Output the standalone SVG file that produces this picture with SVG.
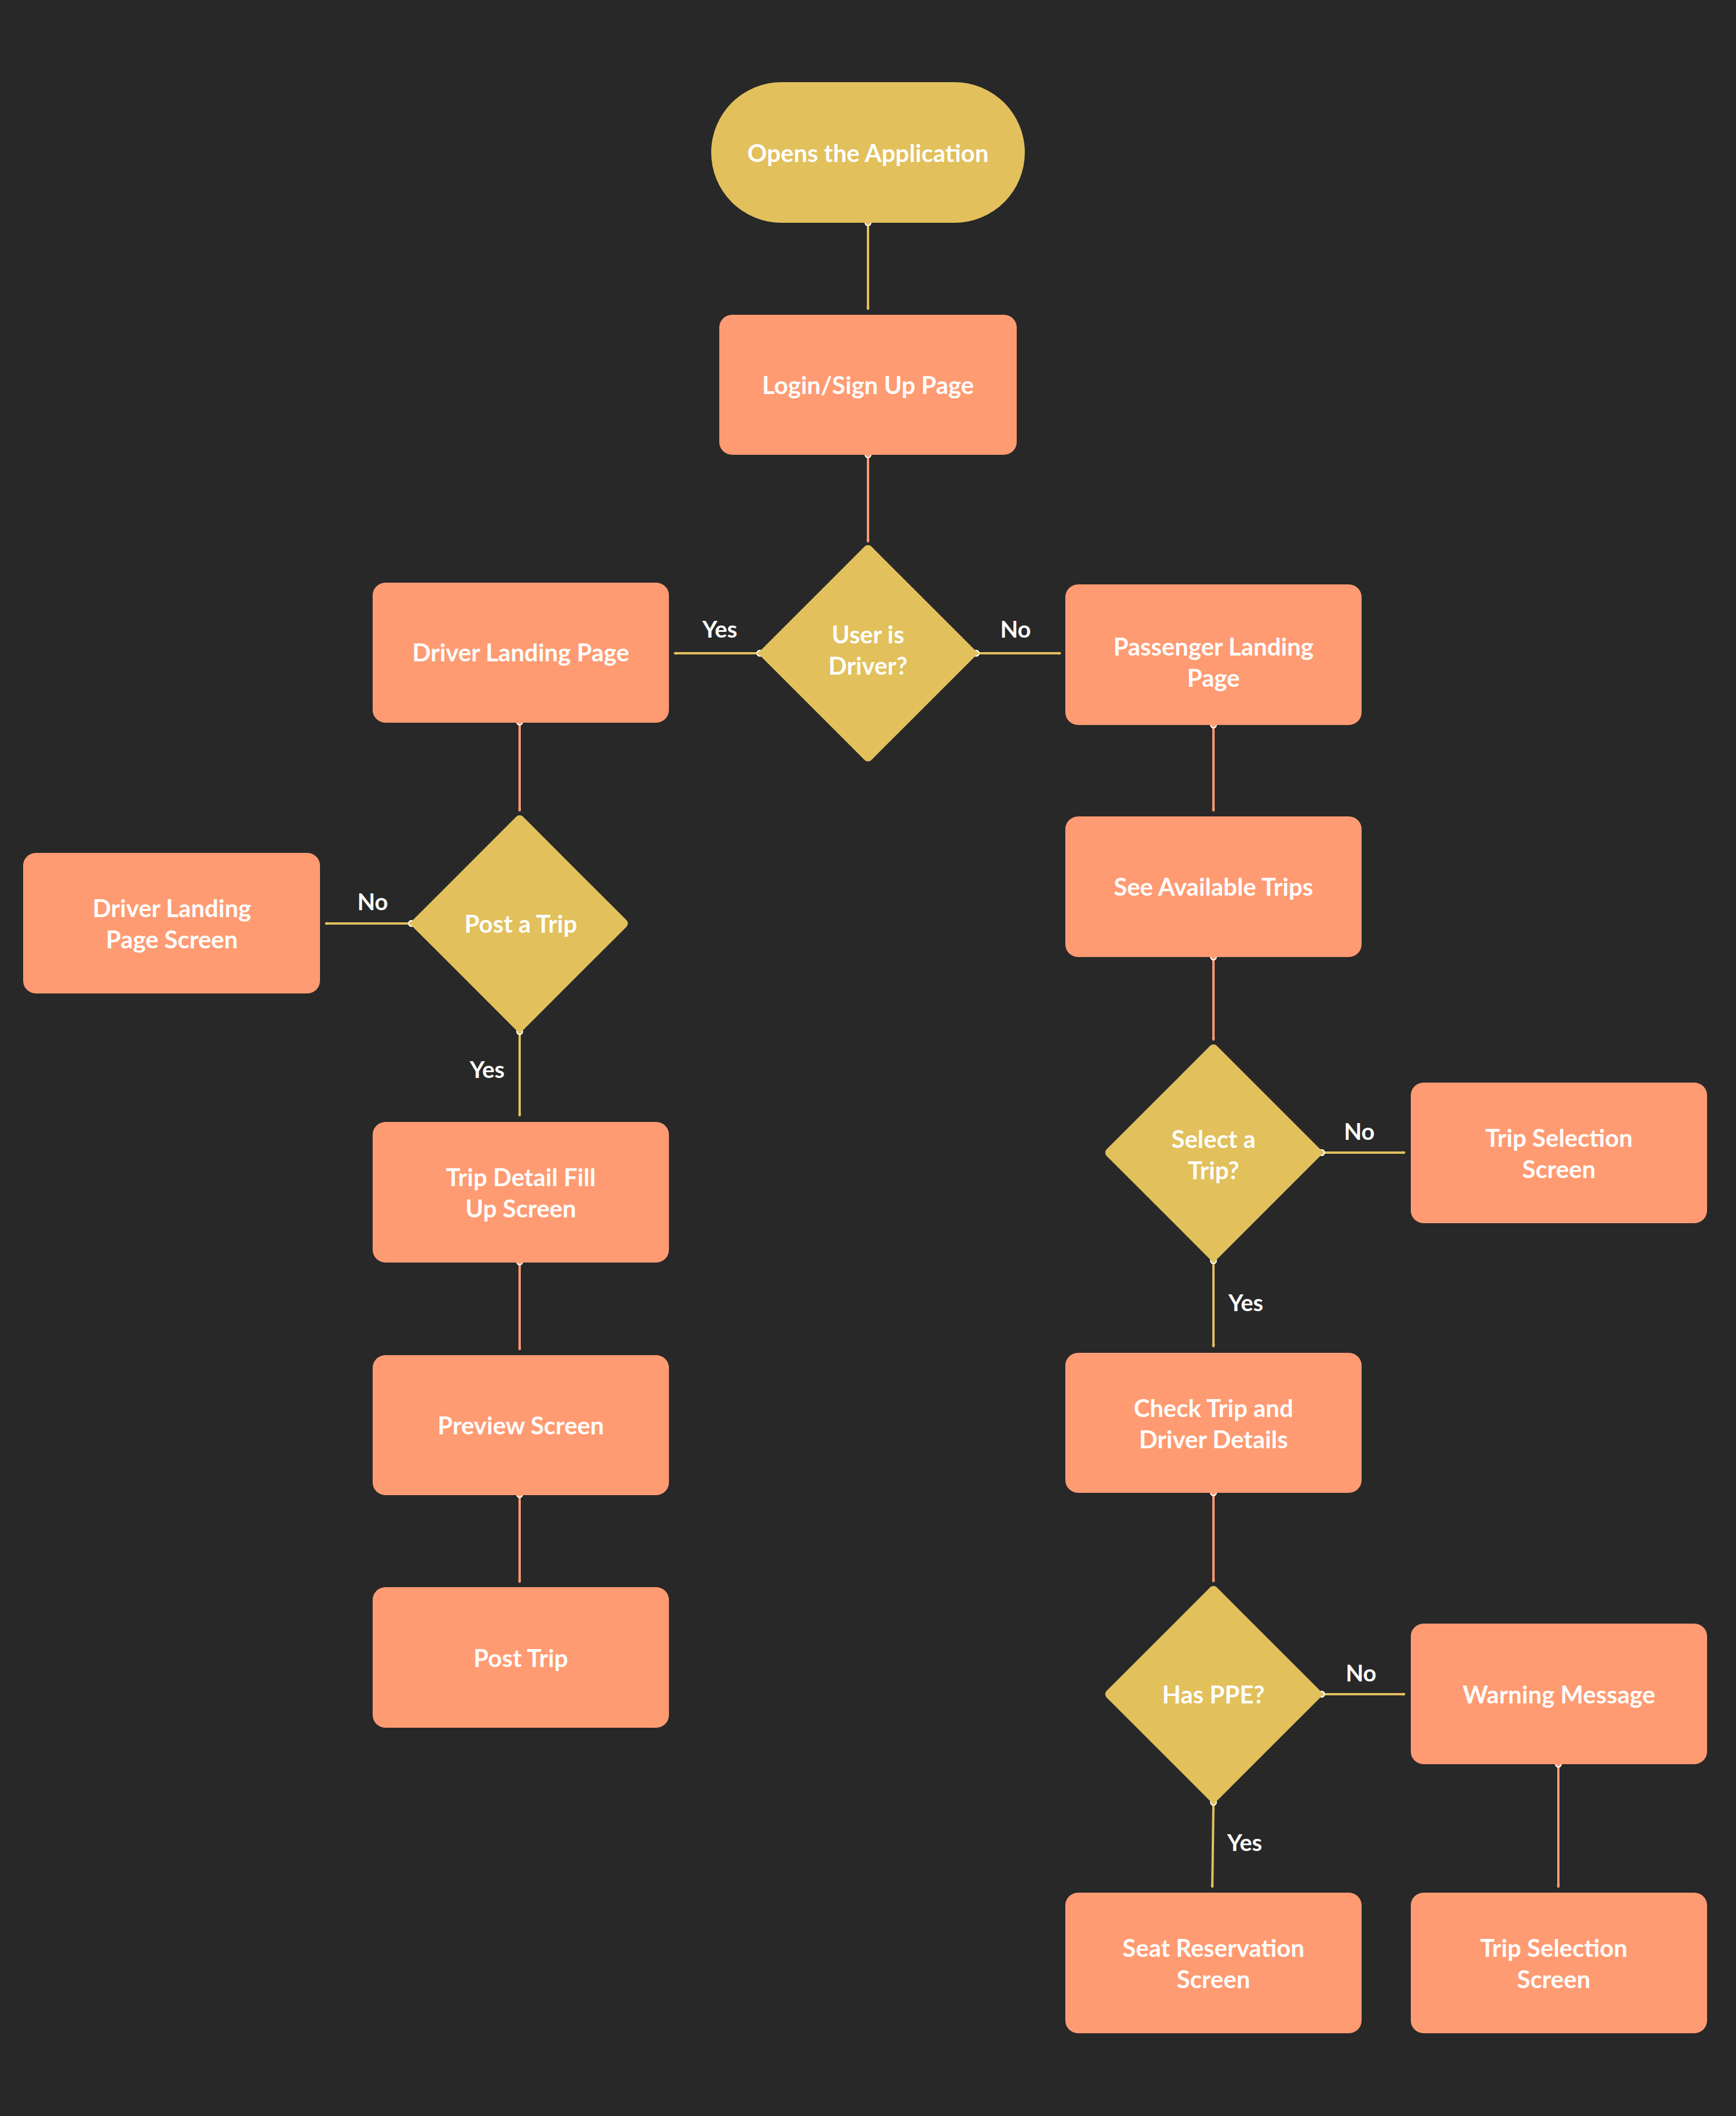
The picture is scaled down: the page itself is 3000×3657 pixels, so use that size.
<svg xmlns="http://www.w3.org/2000/svg" width="3000" height="3657" viewBox="0 0 3000 3657">
<style>
.r{fill:#FF9B72}
.d{fill:#E2C05C;stroke:#E2C05C;stroke-width:16;stroke-linejoin:round}
.t{font-family:Lato,"Open Sans",sans-serif;font-weight:700;font-size:42px;fill:#fff;text-anchor:middle;dominant-baseline:central}
.l{font-family:Lato,"Open Sans",sans-serif;font-weight:700;font-size:40px;fill:#fff;text-anchor:middle;dominant-baseline:central}
.y{stroke:#E2C05C;stroke-width:4;fill:none}
.o{stroke:#FF9B72;stroke-width:4;fill:none}
</style>
<defs>
<marker id="ay" viewBox="0 0 10 10" refX="9" refY="5" markerWidth="5" markerHeight="5" orient="auto" markerUnits="userSpaceOnUse" style="overflow:visible"><path d="M0,0 L10,5 L0,10" fill="none" stroke="#E2C05C" stroke-width="1.5"/></marker>
<marker id="ao" viewBox="0 0 10 10" refX="9" refY="5" markerWidth="5" markerHeight="5" orient="auto" markerUnits="userSpaceOnUse" style="overflow:visible"><path d="M0,0 L10,5 L0,10" fill="none" stroke="#FF9B72" stroke-width="1.5"/></marker>
<marker id="dy" viewBox="0 0 10 10" refX="5" refY="5" markerWidth="14" markerHeight="14" markerUnits="userSpaceOnUse"><circle cx="5" cy="5" r="3.5" fill="#E2C05C" stroke="#fff" stroke-width="1.5"/></marker>
<marker id="do" viewBox="0 0 10 10" refX="5" refY="5" markerWidth="14" markerHeight="14" markerUnits="userSpaceOnUse"><circle cx="5" cy="5" r="3.5" fill="#FF9B72" stroke="#fff" stroke-width="1.5"/></marker>
</defs>
<rect width="3000" height="3657" fill="#282828"/>
<g id="connectors">
<path class="y" d="M1500,385 V535" marker-start="url(#dy)" marker-end="url(#ay)"/>
<path class="o" d="M1500,786 V937" marker-start="url(#do)" marker-end="url(#ao)"/>
<path class="y" d="M1313,1129 H1165" marker-start="url(#dy)" marker-end="url(#ay)"/>
<path class="y" d="M1687,1129 H1833" marker-start="url(#dy)" marker-end="url(#ay)"/>
<path class="o" d="M898,1248 V1402" marker-start="url(#do)" marker-end="url(#ao)"/>
<path class="y" d="M711,1596 H562" marker-start="url(#dy)" marker-end="url(#ay)"/>
<path class="y" d="M898,1783 V1929" marker-start="url(#dy)" marker-end="url(#ay)"/>
<path class="o" d="M898,2181 V2333" marker-start="url(#do)" marker-end="url(#ao)"/>
<path class="o" d="M898,2583 V2735" marker-start="url(#do)" marker-end="url(#ao)"/>
<path class="o" d="M2097,1253 V1402" marker-start="url(#do)" marker-end="url(#ao)"/>
<path class="o" d="M2097,1654 V1798" marker-start="url(#do)" marker-end="url(#ao)"/>
<path class="y" d="M2284,1992 H2428" marker-start="url(#dy)" marker-end="url(#ay)"/>
<path class="y" d="M2097,2179 V2328" marker-start="url(#dy)" marker-end="url(#ay)"/>
<path class="o" d="M2097,2580 V2734" marker-start="url(#do)" marker-end="url(#ao)"/>
<path class="y" d="M2284,2928 H2428" marker-start="url(#dy)" marker-end="url(#ay)"/>
<path class="y" d="M2097,3115 L2095,3262" marker-start="url(#dy)" marker-end="url(#ay)"/>
<path class="o" d="M2693,3049 V3262" marker-start="url(#do)" marker-end="url(#ao)"/>
<text class="l" x="1244" y="1087">Yes</text>
<text class="l" x="1755" y="1087">No</text>
<text class="l" x="644" y="1558">No</text>
<text class="l" x="842" y="1848">Yes</text>
<text class="l" x="2349" y="1955">No</text>
<text class="l" x="2153" y="2251">Yes</text>
<text class="l" x="2352" y="2891">No</text>
<text class="l" x="2151" y="3184">Yes</text>
</g>
<g id="start"><rect x="1229" y="142" width="542" height="243" rx="121.5" fill="#E2C05C"/><text class="t" x="1500" y="264">Opens the Application</text></g>
<g id="login"><rect class="r" x="1243" y="544" width="514" height="242" rx="22"/><text class="t" x="1500" y="665">Login/Sign Up Page</text></g>
<g id="isDriver"><polygon class="d" points="1500,950 1679,1129 1500,1308 1321,1129"/><text class="t" x="1500" y="1096">User is</text><text class="t" x="1500" y="1150">Driver?</text></g>
<g id="driverLanding"><rect class="r" x="644" y="1007" width="512" height="242" rx="22"/><text class="t" x="900" y="1127">Driver Landing Page</text></g>
<g id="passengerLanding"><rect class="r" x="1841" y="1010" width="512" height="243" rx="22"/><text class="t" x="2097" y="1117">Passenger Landing</text><text class="t" x="2097" y="1171">Page</text></g>
<g id="postTripQ"><polygon class="d" points="898,1417 1077,1596 898,1775 719,1596"/><text class="t" x="900" y="1596">Post a Trip</text></g>
<g id="driverLandingScreen"><rect class="r" x="40" y="1474" width="513" height="243" rx="22"/><text class="t" x="297" y="1569">Driver Landing</text><text class="t" x="297" y="1623">Page Screen</text></g>
<g id="seeTrips"><rect class="r" x="1841" y="1411" width="512" height="243" rx="22"/><text class="t" x="2097" y="1532">See Available Trips</text></g>
<g id="selectTrip"><polygon class="d" points="2097,1813 2276,1992 2097,2171 1918,1992"/><text class="t" x="2097" y="1968">Select a</text><text class="t" x="2097" y="2022">Trip?</text></g>
<g id="tripSel1"><rect class="r" x="2438" y="1871" width="512" height="243" rx="22"/><text class="t" x="2694" y="1966">Trip Selection</text><text class="t" x="2694" y="2020">Screen</text></g>
<g id="tripDetail"><rect class="r" x="644" y="1939" width="512" height="243" rx="22"/><text class="t" x="900" y="2034">Trip Detail Fill</text><text class="t" x="900" y="2088">Up Screen</text></g>
<g id="checkTrip"><rect class="r" x="1841" y="2338" width="512" height="242" rx="22"/><text class="t" x="2097" y="2433">Check Trip and</text><text class="t" x="2097" y="2487">Driver Details</text></g>
<g id="preview"><rect class="r" x="644" y="2342" width="512" height="242" rx="22"/><text class="t" x="900" y="2463">Preview Screen</text></g>
<g id="postTrip"><rect class="r" x="644" y="2743" width="512" height="243" rx="22"/><text class="t" x="900" y="2865">Post Trip</text></g>
<g id="hasPPE"><polygon class="d" points="2097,2749 2276,2928 2097,3107 1918,2928"/><text class="t" x="2097" y="2928">Has PPE?</text></g>
<g id="warning"><rect class="r" x="2438" y="2806" width="512" height="243" rx="22"/><text class="t" x="2694" y="2928">Warning Message</text></g>
<g id="seat"><rect class="r" x="1841" y="3271" width="512" height="243" rx="22"/><text class="t" x="2097" y="3366">Seat Reservation</text><text class="t" x="2097" y="3420">Screen</text></g>
<g id="tripSel2"><rect class="r" x="2438" y="3271" width="512" height="243" rx="22"/><text class="t" x="2685" y="3366">Trip Selection</text><text class="t" x="2685" y="3420">Screen</text></g>
</svg>
